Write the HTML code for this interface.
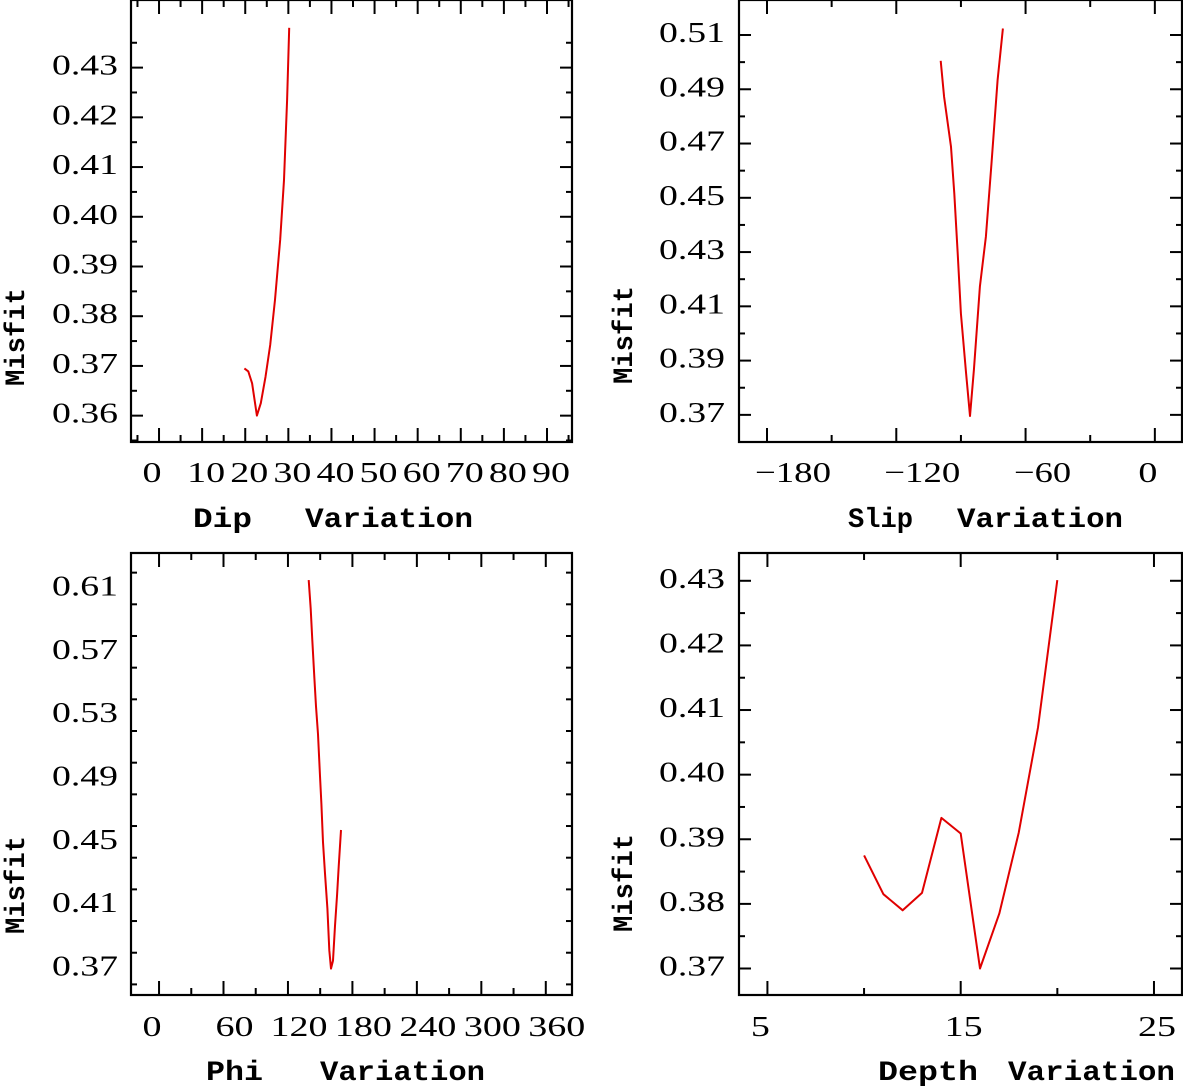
<!DOCTYPE html>
<html><head><meta charset="utf-8"><style>
html,body{margin:0;padding:0;background:#fff;}
svg{display:block;}
text{fill:#000;}
.num{font-family:"Liberation Serif",serif;font-size:29px;}
.ttl{font-family:"Liberation Mono",monospace;font-size:28px;font-weight:bold;}
</style></head><body>
<svg id="chart" width="1183" height="1086" viewBox="0 0 1183 1086" xmlns="http://www.w3.org/2000/svg"></svg>
<script>
// Dip panel
const dipX = [19.8, 20.7, 21.6, 22.7, 23.6, 24.7, 25.8, 26.9, 28.1, 29.0, 29.7, 30.2];
const dipY = [0.3695, 0.3689, 0.3665, 0.3600, 0.3625, 0.3678, 0.3742, 0.3833, 0.3954, 0.4074, 0.4235, 0.4380];
const dipXTicks = [0, 10, 20, 30, 40, 50, 60, 70, 80, 90];
const dipYTicks = [0.36, 0.37, 0.38, 0.39, 0.40, 0.41, 0.42, 0.43];
// Slip panel
const slipX = [-99.4, -97.8, -94.6, -93.1, -91.5, -90.0, -87.6, -85.8, -84.0, -81.2, -78.4, -75.8, -73.0, -70.5];
const slipY = [0.5005, 0.4872, 0.4688, 0.4516, 0.4295, 0.4074, 0.3853, 0.3696, 0.3866, 0.4173, 0.4357, 0.4627, 0.4934, 0.5124];
const slipXTicks = [-180, -120, -60, 0];
const slipYTicks = [0.37, 0.39, 0.41, 0.43, 0.45, 0.47, 0.49, 0.51];
// Phi panel
const phiX = [139.3, 141.2, 142.7, 144.6, 146.1, 148.0, 149.8, 151.1, 152.6, 154.5, 156.7, 158.5, 160.1, 161.9, 163.8, 165.7, 167.2, 169.4];
const phiY = [0.6153, 0.5972, 0.5774, 0.5532, 0.5356, 0.5180, 0.4916, 0.4740, 0.4498, 0.4300, 0.4080, 0.3816, 0.3700, 0.3750, 0.3970, 0.4168, 0.4344, 0.4575];
const phiXTicks = [0, 60, 120, 180, 240, 300, 360];
const phiYTicks = [0.37, 0.41, 0.45, 0.49, 0.53, 0.57, 0.61];
// Depth panel
const depthX = [10, 11, 12, 13, 14, 15, 16, 17, 18, 19, 20];
const depthY = [0.3875, 0.3815, 0.3790, 0.3817, 0.3933, 0.3909, 0.3700, 0.3785, 0.3910, 0.4073, 0.4301];
const depthXTicks = [5, 15, 25];
const depthYTicks = [0.37, 0.38, 0.39, 0.40, 0.41, 0.42, 0.43];

const NS = "http://www.w3.org/2000/svg";
const svg = document.getElementById('chart');
function mk(tag, attrs, parent){const e=document.createElementNS(NS,tag);for(const k in attrs)e.setAttribute(k,attrs[k]);(parent||svg).appendChild(e);return e;}

const panels = [
 {key:'dip', xs:dipX, ys:dipY, xt:dipXTicks, yt:dipYTicks, box:[131,0,572,442], xd:[-6.5,95.8], yd:[0.3547,0.4436],
  xMinorStep:5, yMinorStep:0.005, yMinorMax:0.436, labelOff:function(v){return v===0?-7:4;},
  xLabY:482, words:[['Dip',193,252],['Variation',305,473]], titleY:527, misfitY:337, labX:118, misX:14},
 {key:'slip', xs:slipX, ys:slipY, xt:slipXTicks, yt:slipYTicks, box:[739,0,1182,442], xd:[-193,12.6], yd:[0.36,0.5229],
  xMinorStep:30, yMinorStep:0.01, yMinorMax:0.52, labelOff:function(v){return v===0?-7:(v<=-100?26:17);},
  xLabY:482, words:[['Slip',848,913],['Variation',957,1123]], titleY:527, misfitY:335, labX:725, misX:622},
 {key:'phi', xs:phiX, ys:phiY, xt:phiXTicks, yt:phiYTicks, box:[131,553,572,995], xd:[-26.1,384.4], yd:[0.3533,0.6324],
  xMinorStep:30, yMinorStep:0.02, yMinorMax:0.63, labelOff:function(v){return v===0?-7:11;},
  xLabY:1036, words:[['Phi',206,263],['Variation',320,485]], titleY:1080, misfitY:885, labX:118, misX:14},
 {key:'depth', xs:depthX, ys:depthY, xt:depthXTicks, yt:depthYTicks, box:[739,553,1182,995], xd:[3.53,26.45], yd:[0.3659,0.4343],
  xMinorStep:5, yMinorStep:0.005, yMinorMax:0.434, labelOff:function(v){return v===5?-7:3;},
  xLabY:1036, words:[['Depth',878,978],['Variation',1008,1175]], titleY:1080, misfitY:883, labX:725, misX:622}
];

panels.forEach(function(p){
  const [L,T,R,B] = p.box;
  const g = mk('g',{});
  
  
  const sx = function(v){return L + (v-p.xd[0])/(p.xd[1]-p.xd[0])*(R-L);};
  const sy = function(v){return B - (v-p.yd[0])/(p.yd[1]-p.yd[0])*(B-T);};
  const frame = mk('rect',{x:L,y:T,width:R-L,height:B-T,fill:'none',stroke:'#000','stroke-width':2.2},g);
  
  
  const xMin = Math.ceil(p.xd[0]/p.xMinorStep)*p.xMinorStep;
  for(let v=xMin; v<=p.xd[1]; v+=p.xMinorStep){
    const isMaj = p.xt.some(function(t){return Math.abs(t-v)<1e-6;});
    const len = isMaj?14:7, x=sx(v);
    mk('line',{x1:x,y1:B,x2:x,y2:B-len,stroke:'#000','stroke-width':2},g);
    mk('line',{x1:x,y1:T,x2:x,y2:T+len,stroke:'#000','stroke-width':2},g);
  }
  const yMin = Math.ceil((p.yd[0]+1e-9)/p.yMinorStep)*p.yMinorStep;
  for(let v=yMin; v<=p.yMinorMax; v+=p.yMinorStep){
    const isMaj = p.yt.some(function(t){return Math.abs(t-v)<1e-6;});
    const len = isMaj?12:6, y=sy(v);
    mk('line',{x1:L,y1:y,x2:L+len,y2:y,stroke:'#000','stroke-width':2},g);
    mk('line',{x1:R,y1:y,x2:R-len,y2:y,stroke:'#000','stroke-width':2},g);
  }
  p.xt.forEach(function(v){
    const s = v<0 ? '\u2212'+Math.abs(v) : String(v);
    const t = mk('text',{x:sx(v)+p.labelOff(v),y:p.xLabY,'text-anchor':'middle','class':'num',textLength:s.length*19,lengthAdjust:'spacingAndGlyphs'},g);
    t.textContent = s;
    
    
  });
  p.yt.forEach(function(v){
    const t = mk('text',{x:p.labX,y:sy(v)+7,'text-anchor':'end','class':'num',textLength:66,lengthAdjust:'spacingAndGlyphs'},g);
    t.textContent = v.toFixed(2);
    
    
  });
  p.words.forEach(function(w){
    const t = mk('text',{x:w[1],y:p.titleY,'class':'ttl',textLength:w[2]-w[1],lengthAdjust:'spacingAndGlyphs'},g);
    t.textContent = w[0];
    
    
  });
  const mt = mk('text',{x:0,y:0,'class':'ttl','text-anchor':'middle',textLength:98,lengthAdjust:'spacingAndGlyphs',
     transform:'translate('+(p.misX+10)+','+p.misfitY+') rotate(-90)'},g);
  mt.textContent = 'Misfit';
  
  
  const pts = p.xs.map(function(x,i){return sx(x).toFixed(1)+','+sy(p.ys[i]).toFixed(1);}).join(' ');
  const line = mk('polyline',{points:pts,fill:'none',stroke:'#e00000','stroke-width':2,'stroke-linejoin':'round'},g);
  
  
});
</script>
</body></html>
